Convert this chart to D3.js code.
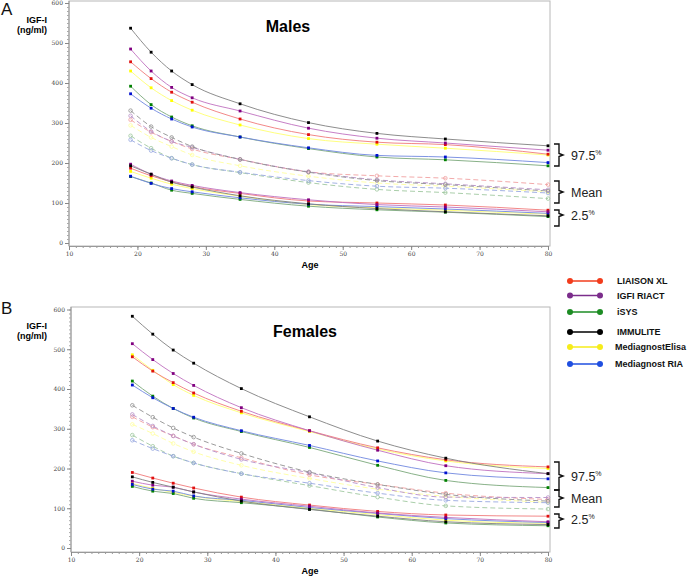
<!DOCTYPE html>
<html><head><meta charset="utf-8">
<script src="https://cdn.jsdelivr.net/npm/d3@7"></script>
<style>body{margin:0;background:#fff}svg{display:block;font-family:"Liberation Sans",Arial,sans-serif}</style>
</head><body><svg id="c" width="688" height="578"></svg>
<script>
const ages = [19, 22, 25, 28, 35, 45, 55, 65, 80];
const assays = ["LIAISON XL", "IGFI RIACT", "iSYS", "IMMULITE", "MediagnostElisa", "Mediagnost RIA"];
const xTicks = [10, 20, 30, 40, 50, 60, 70, 80];
const yTicks = [0, 100, 200, 300, 400, 500, 600];
const bandLabels = ["97.5", "Mean", "2.5"];

// Males
const maleP975 = [
  [453, 411, 377, 352, 310, 271, 252, 246, 222],
  [485, 430, 389, 363, 330, 287, 262, 250, 232],
  [392, 346, 315, 293, 265, 236, 215, 208, 193],
  [537, 477, 430, 396, 348, 301, 274, 260, 243],
  [430, 388, 356, 332, 295, 261, 247, 237, 220],
  [373, 337, 310, 290, 265, 238, 219, 215, 201]
];
const maleMean = [
  [308, 277, 254, 235, 209, 178, 168, 162, 146],
  [318, 279, 254, 239, 209, 178, 158, 148, 133],
  [268, 237, 212, 196, 176, 151, 134, 126, 111],
  [331, 291, 264, 241, 209, 177, 156, 146, 130],
  [294, 264, 241, 220, 193, 167, 150, 142, 128],
  [258, 231, 212, 196, 177, 156, 142, 137, 125]
];
const maleP25 = [
  [187, 168, 153, 141, 124, 105, 100, 95, 82],
  [197, 172, 155, 144, 126, 108, 96, 90, 78],
  [166, 150, 132, 124, 109, 92, 83, 77, 66],
  [193, 172, 152, 140, 118, 98, 86, 78, 68],
  [179, 162, 147, 136, 117, 96, 88, 82, 72],
  [167, 149, 136, 128, 113, 97, 91, 85, 74]
];
// Females
const femaleP975 = [
  [481, 445, 416, 390, 344, 295, 252, 222, 204],
  [514, 474, 439, 409, 353, 295, 246, 207, 187],
  [420, 382, 351, 327, 293, 253, 208, 170, 152],
  [583, 538, 498, 465, 401, 330, 269, 226, 187],
  [486, 447, 411, 384, 340, 293, 249, 219, 200],
  [410, 378, 351, 329, 295, 258, 219, 189, 174]
];
const femaleMean = [
  [330, 304, 282, 261, 227, 184, 160, 138, 122],
  [336, 307, 282, 261, 223, 189, 152, 128, 127],
  [284, 256, 231, 214, 187, 157, 128, 106, 98],
  [359, 329, 302, 279, 238, 191, 160, 135, 118],
  [311, 288, 263, 242, 208, 175, 148, 130, 115],
  [271, 250, 231, 214, 187, 163, 138, 120, 114]
];
const femaleP25 = [
  [190, 176, 163, 151, 128, 108, 92, 83, 80],
  [168, 158, 153, 141, 123, 105, 88, 77, 66],
  [155, 143, 137, 125, 114, 98, 78, 63, 56],
  [179, 165, 153, 141, 118, 97, 80, 66, 59],
  [162, 150, 140, 130, 117, 100, 84, 70, 62],
  [160, 148, 143, 131, 120, 102, 87, 74, 64]
];

const markerColors = ["#e01010", "#800080", "#008000", "#000000", "#ffff00", "#0010d0"];
const lineColors   = ["#f07a7a", "#c070c0", "#7aa87a", "#808080", "#ffff70", "#7088e0"];
const meanColors   = ["#f0a0a0", "#b890c8", "#a0c8a0", "#909090", "#ffffa0", "#98a8e0"];
const legendColors = ["#f23c1c", "#7b2d8b", "#1d8c24", "#000000", "#f6ec1a", "#1f4fe0"];

const svg = d3.select("#c");

function panel(cfg) {
  const g = svg.append("g");
  const x = d3.scaleLinear().domain([10, 80]).range([cfg.x0, cfg.x1]);
  const y = d3.scaleLinear().domain([0, 600]).range([cfg.y0, cfg.y1]);
  // frame
  g.append("rect").attr("x", cfg.fl).attr("y", cfg.ft).attr("width", cfg.fr - cfg.fl).attr("height", cfg.fb - cfg.ft)
    .attr("fill", "none").attr("stroke", "#b8b8b8").attr("stroke-width", 1);
  // x axis
  const xa = g.append("g").attr("transform", `translate(0,${cfg.fb})`)
    .call(d3.axisBottom(x).tickValues(d3.range(10, 81, 1)).tickSize(2).tickFormat(""));
  xa.select(".domain").attr("stroke", "#999");
  xa.selectAll(".tick line").attr("stroke", "#999");
  const xb = g.append("g").attr("transform", `translate(0,${cfg.fb})`)
    .call(d3.axisBottom(x).tickValues(xTicks).tickSize(4).tickPadding(2).tickFormat(d3.format("d")));
  xb.select(".domain").remove();
  xb.selectAll(".tick line").attr("stroke", "#888");
  xb.selectAll("text").attr("font-size", 6).attr("fill", "#444").attr("font-family", "DejaVu Serif, serif");
  // y axis
  const ya = g.append("g").attr("transform", `translate(${cfg.fl},0)`)
    .call(d3.axisLeft(y).tickValues(d3.range(0, 601, 10)).tickSize(2).tickFormat(""));
  ya.select(".domain").attr("stroke", "#999").attr("d", `M0,${cfg.ft}V${cfg.fb}`);
  ya.selectAll(".tick line").attr("stroke", "#aaa");
  const yb = g.append("g").attr("transform", `translate(${cfg.fl},0)`)
    .call(d3.axisLeft(y).tickValues(yTicks).tickSize(4).tickPadding(2).tickFormat(d3.format("d")));
  yb.select(".domain").remove();
  yb.selectAll(".tick line").attr("stroke", "#888");
  yb.selectAll("text").attr("font-size", 6).attr("fill", "#444").attr("font-family", "DejaVu Serif, serif");

  const line = d3.line().x((d, i) => x(ages[i])).y(d => y(d)).curve(d3.curveMonotoneX);
  const order = [4, 2, 5, 0, 1, 3];
  // mean dashed
  order.forEach(k => {
    g.append("path").attr("d", line(cfg.mean[k])).attr("fill", "none")
      .attr("stroke", meanColors[k]).attr("stroke-width", 0.9).attr("stroke-dasharray", "5,3");
    g.selectAll(null).data(cfg.mean[k]).enter().append("circle")
      .attr("cx", (d, i) => x(ages[i])).attr("cy", d => y(d)).attr("r", 1.8)
      .attr("fill", "none").attr("stroke", meanColors[k]).attr("stroke-width", 0.8);
  });
  [cfg.p975, cfg.p25].forEach(arr => {
    order.forEach(k => {
      g.append("path").attr("d", line(arr[k])).attr("fill", "none")
        .attr("stroke", lineColors[k]).attr("stroke-width", 0.9);
    });
    order.forEach(k => {
      g.selectAll(null).data(arr[k]).enter().append("rect")
        .attr("x", (d, i) => x(ages[i]) - 1.4).attr("y", d => y(d) - 1.4)
        .attr("width", 2.8).attr("height", 2.8).attr("fill", markerColors[k]);
    });
  });
  // titles
  g.append("text").attr("x", cfg.titleX).attr("y", cfg.titleY).attr("text-anchor", "middle")
    .attr("font-size", 16).attr("font-weight", "bold").attr("fill", "#000").text(cfg.title);
  g.append("text").attr("x", 310).attr("y", cfg.fb + 22).attr("text-anchor", "middle")
    .attr("font-size", 9).attr("font-weight", "bold").text("Age");
  g.append("text").attr("x", 47).attr("y", cfg.ft + 22).attr("text-anchor", "end")
    .attr("font-size", 9).attr("font-weight", "bold").text("IGF-I");
  g.append("text").attr("x", 47).attr("y", cfg.ft + 32).attr("text-anchor", "end")
    .attr("font-size", 9).attr("font-weight", "bold").text("(ng/ml)");
  g.append("text").attr("x", 1).attr("y", cfg.letterY).attr("font-size", 17).attr("fill", "#111").text(cfg.letter);
  // brackets
  cfg.brackets.forEach((b, i) => {
    const [t, m, bt] = b;
    const xl = 554, xm = 559, xt = 563;
    g.append("path").attr("fill", "none").attr("stroke", "#111").attr("stroke-width", 1.4)
      .attr("d", `M${xl},${t}H${xm}V${m - 1.5}L${xt},${m}L${xm},${m + 1.5}V${bt}H${xl}`);
    const tx = g.append("text").attr("x", 571).attr("y", m + 4.5).attr("font-size", 12.5).attr("fill", "#222");
    tx.append("tspan").text(bandLabels[i]);
    if (i !== 1) tx.append("tspan").attr("font-size", 7).attr("dy", -5).text("%");
  });
}

panel({
  x0: 69, x1: 548, y0: 243, y1: 3, fl: 69, fr: 550, ft: 1, fb: 246,
  p975: maleP975, mean: maleMean, p25: maleP25, title: "Males", titleX: 288, titleY: 32,
  letter: "A", letterY: 15,
  brackets: [[144, 155, 166], [181, 192, 203], [210, 215, 226]]
});
panel({
  x0: 71, x1: 548, y0: 548, y1: 309.5, fl: 71, fr: 550, ft: 307, fb: 552,
  p975: femaleP975, mean: femaleMean, p25: femaleP25, title: "Females", titleX: 305, titleY: 337,
  letter: "B", letterY: 314,
  brackets: [[462, 476, 490], [490, 498, 507], [514, 519, 528]]
});

// legend
const legY = [281, 295.5, 312, 332, 347, 364];
const lg = svg.append("g");
assays.forEach((a, i) => {
  lg.append("line").attr("x1", 570).attr("x2", 600).attr("y1", legY[i]).attr("y2", legY[i])
    .attr("stroke", legendColors[i]).attr("stroke-width", 1.5);
  [570, 600].forEach(cx => lg.append("circle").attr("cx", cx).attr("cy", legY[i]).attr("r", 3).attr("fill", legendColors[i]));
  lg.append("text").attr("x", i >= 4 ? 615 : 617).attr("y", legY[i] + 3.3).attr("font-size", 9)
    .attr("font-weight", "bold").attr("fill", "#111").text(a);
});
</script></body></html>
